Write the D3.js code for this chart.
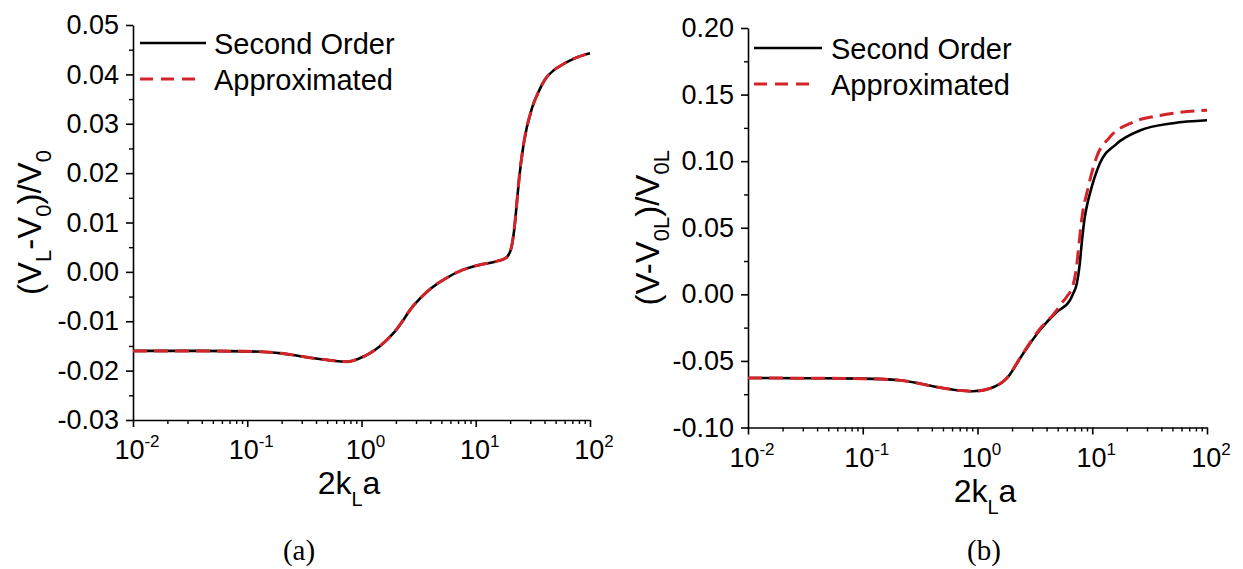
<!DOCTYPE html>
<html>
<head>
<meta charset="utf-8">
<script src="https://cdn.jsdelivr.net/npm/d3@7/dist/d3.min.js"></script>
<style>
  html, body { margin: 0; padding: 0; background: #fff; }
  svg { display: block; }
  text { font-family: "Liberation Sans", Arial, sans-serif; fill: #000; }
</style>
</head>
<body>
<svg id="chart" width="1243" height="569"></svg>
<script>
// ---------------- data ----------------
const seriesNames = ["Second Order", "Approximated"];
const captions = ["(a)", "(b)"];
const xMajorTicks = [0.01, 0.1, 1, 10, 100];
const xTickExponents = ["-2", "-1", "0", "1", "2"];

// panel (a): x = 2k_L a, y = (V_L - V_0)/V_0
const xA = [0.01, 0.0316, 0.1, 0.2, 0.355, 0.526, 0.741, 0.962, 1.44, 2.01, 2.81, 3.93, 5.48, 7.67, 10.7, 15, 18.3, 20.3, 21.7, 22.9, 24, 26.2, 31, 35.5, 40.5, 47.9, 56.6, 74.1, 100];
const secondA = [-0.0160, -0.0160, -0.0161, -0.0165, -0.0174, -0.0179, -0.0182, -0.0175, -0.0151, -0.0118, -0.0070, -0.0036, -0.0013, 0.0004, 0.0014, 0.0021, 0.0028, 0.0045, 0.0085, 0.0140, 0.0190, 0.0258, 0.0331, 0.0365, 0.0390, 0.0408, 0.0419, 0.0433, 0.0443];
const approxA = [-0.0160, -0.0160, -0.0161, -0.0165, -0.0174, -0.0179, -0.0182, -0.0175, -0.0151, -0.0117, -0.0070, -0.0036, -0.0013, 0.0004, 0.0014, 0.0021, 0.0028, 0.0046, 0.0086, 0.0141, 0.0191, 0.0258, 0.0331, 0.0365, 0.0390, 0.0408, 0.0419, 0.0433, 0.0443];
const yTicksA = [-0.03, -0.02, -0.01, 0.00, 0.01, 0.02, 0.03, 0.04, 0.05];
const yMinorA = [-0.025, -0.015, -0.005, 0.005, 0.015, 0.025, 0.035, 0.045];

// panel (b): x = 2k_L a, y = (V - V_0L)/V_0L
const xB2 = [0.01, 0.0316, 0.1, 0.209, 0.468, 0.708, 0.912, 1.28, 1.79, 2.5, 3.49, 4.89, 6.38, 6.81, 7.33, 7.76, 8.13, 8.61, 9.12, 9.53, 11.6, 16.3, 26, 50.7, 100];
const secondB = [-0.0628, -0.0630, -0.0633, -0.0645, -0.0700, -0.0722, -0.0728, -0.0707, -0.0633, -0.0445, -0.0270, -0.0133, -0.0045, 0.0005, 0.0080, 0.0220, 0.0400, 0.0580, 0.0690, 0.0755, 0.0980, 0.1130, 0.1230, 0.1285, 0.1307];
const xBa = [0.01, 0.0316, 0.1, 0.209, 0.468, 0.708, 0.912, 1.28, 1.79, 2.5, 3.49, 4.89, 5.22, 5.97, 6.81, 7.29, 7.67, 8.07, 9.2, 10.9, 14.2, 22.6, 38.8, 86.7, 100];
const approxB = [-0.0628, -0.0630, -0.0633, -0.0645, -0.0700, -0.0722, -0.0728, -0.0707, -0.0630, -0.0440, -0.0260, -0.0120, -0.0083, -0.0020, 0.0070, 0.0205, 0.0380, 0.0555, 0.0800, 0.1030, 0.1180, 0.1293, 0.1343, 0.1380, 0.1383];
const yTicksB = [-0.10, -0.05, 0.00, 0.05, 0.10, 0.15, 0.20];
const yMinorB = [-0.075, -0.025, 0.025, 0.075, 0.125, 0.175];

// ---------------- drawing ----------------
const svg = d3.select("#chart");
svg.append("rect").attr("width", 1243).attr("height", 569).attr("fill", "#fff");

const RED = "#d3242a";
const fmt = v => (v < 0 ? "-" : "") + Math.abs(v).toFixed(2);

const xMinorTicks = [];
[0.01, 0.1, 1, 10].forEach(d => { for (let k = 2; k <= 9; k++) xMinorTicks.push(d * k); });

function panel(cfg) {
  const x = d3.scaleLog().domain([0.01, 100]).range([cfg.left, cfg.right]);
  const y = d3.scaleLinear().domain(cfg.yDomain).range([cfg.bottom, cfg.top]);
  const g = svg.append("g");

  // minor ticks
  g.append("g").attr("transform", `translate(0,${cfg.bottom})`)
    .call(d3.axisBottom(x).tickValues(xMinorTicks).tickSize(4).tickSizeOuter(0).tickFormat(""))
    .call(s => s.select(".domain").remove())
    .call(s => s.selectAll("line").attr("stroke-width", 1.4));
  g.append("g").attr("transform", `translate(${cfg.left},0)`)
    .call(d3.axisLeft(y).tickValues(cfg.yMinor).tickSize(4).tickSizeOuter(0).tickFormat(""))
    .call(s => s.select(".domain").remove())
    .call(s => s.selectAll("line").attr("stroke-width", 1.4));

  // major x axis
  const gx = g.append("g").attr("transform", `translate(0,${cfg.bottom})`)
    .call(d3.axisBottom(x).tickValues(xMajorTicks).tickSize(7).tickSizeOuter(0).tickFormat(""));
  gx.select(".domain").attr("stroke-width", 1.6);
  gx.selectAll("line").attr("stroke-width", 1.6);
  xMajorTicks.forEach((v, i) => {
    const t = g.append("text").attr("x", x(v) + 4).attr("y", cfg.bottom + 39)
      .attr("text-anchor", "middle").style("font-size", "27px");
    t.append("tspan").text("10");
    t.append("tspan").attr("dy", -12).style("font-size", "17px").text(xTickExponents[i]);
  });

  // major y axis
  const gy = g.append("g").attr("transform", `translate(${cfg.left},0)`)
    .call(d3.axisLeft(y).tickValues(cfg.yTicks).tickSize(7).tickSizeOuter(0).tickPadding(7).tickFormat(fmt));
  gy.select(".domain").attr("stroke-width", 1.6);
  gy.selectAll("line").attr("stroke-width", 1.6);
  gy.selectAll("text").style("font-size", "27px")
    .style("font-family", '"Liberation Sans", Arial, sans-serif').attr("fill", "#000");

  // curves
  const line = d3.line().x(d => x(d[0])).y(d => y(d[1])).curve(d3.curveMonotoneX);
  g.append("path").datum(cfg.xs.map((v, i) => [v, cfg.second[i]]))
    .attr("d", line).attr("fill", "none").attr("stroke", "#000").attr("stroke-width", 2.6);
  g.append("path").datum(cfg.xa.map((v, i) => [v, cfg.approx[i]]))
    .attr("d", line).attr("fill", "none").attr("stroke", RED).attr("stroke-width", 3)
    .attr("stroke-dasharray", "14,7");

  // legend
  const L = cfg.legend;
  g.append("line").attr("x1", L.x1).attr("x2", L.x2).attr("y1", L.y1).attr("y2", L.y1)
    .attr("stroke", "#000").attr("stroke-width", 2.6);
  g.append("line").attr("x1", L.x1).attr("x2", L.x2 - 8).attr("y1", L.y2).attr("y2", L.y2)
    .attr("stroke", RED).attr("stroke-width", 3).attr("stroke-dasharray", "13,8");
  g.append("text").attr("x", L.tx).attr("y", L.y1 + 11).style("font-size", "29px").text(seriesNames[0]);
  g.append("text").attr("x", L.tx).attr("y", L.y2 + 11).style("font-size", "29px").text(seriesNames[1]);

  // x title: 2k_L a
  const xt = g.append("text").attr("x", cfg.xTitleX).attr("y", cfg.bottom + 74)
    .attr("text-anchor", "middle").style("font-size", "32px");
  xt.append("tspan").text("2k");
  xt.append("tspan").attr("dy", 12).style("font-size", "20px").text("L");
  xt.append("tspan").attr("dy", -12).text("a");

  // y title (rotated)
  const yt = g.append("text")
    .attr("transform", `translate(${cfg.yTitleX},${(cfg.top + cfg.bottom) / 2}) rotate(-90)`)
    .attr("text-anchor", "middle").style("font-size", "33px");
  cfg.yTitle.forEach(p => {
    const ts = yt.append("tspan").text(p.t);
    if (p.sub) ts.attr("dy", 10).style("font-size", "22px");
    if (p.back) ts.attr("dy", -10);
  });

  // caption
  svg.append("text").attr("x", cfg.capX).attr("y", 560).attr("text-anchor", "middle")
    .style("font-family", '"Liberation Serif", "Times New Roman", serif').style("font-size", "29px")
    .text(cfg.caption);
}

panel({
  left: 133, right: 590, top: 25, bottom: 420,
  yDomain: [-0.03, 0.05], yTicks: yTicksA, yMinor: yMinorA,
  xs: xA, second: secondA, xa: xA, approx: approxA,
  legend: { x1: 140, x2: 206, y1: 43, y2: 79, tx: 214 },
  xTitleX: 349, yTitleX: 41,
  yTitle: [{ t: "(V" }, { t: "L", sub: true }, { t: "-V", back: true }, { t: "0", sub: true }, { t: ")/V", back: true }, { t: "0", sub: true }],
  capX: 299, caption: captions[0]
});

panel({
  left: 748, right: 1207, top: 28, bottom: 427.5,
  yDomain: [-0.10, 0.20], yTicks: yTicksB, yMinor: yMinorB,
  xs: xB2, second: secondB, xa: xBa, approx: approxB,
  legend: { x1: 754, x2: 822, y1: 48, y2: 84, tx: 831 },
  xTitleX: 985, yTitleX: 659,
  yTitle: [{ t: "(V-V" }, { t: "0L", sub: true }, { t: ")/V", back: true }, { t: "0L", sub: true }],
  capX: 984, caption: captions[1]
});
</script>
</body>
</html>
